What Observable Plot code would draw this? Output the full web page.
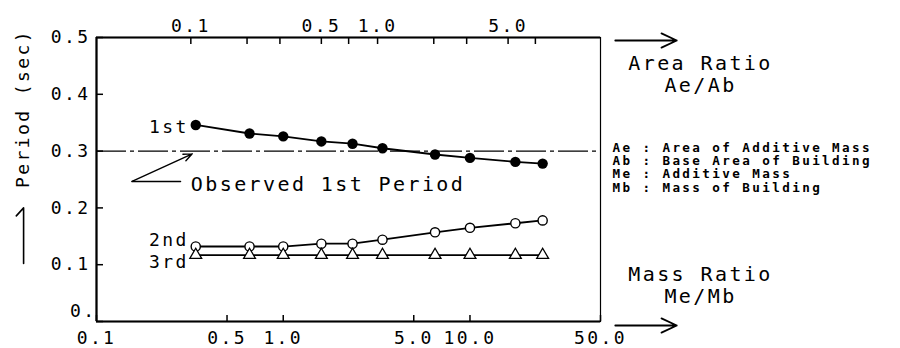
<!DOCTYPE html>
<html><head><meta charset="utf-8">
<script src="https://cdn.jsdelivr.net/npm/d3@7"></script>
<script src="https://cdn.jsdelivr.net/npm/@observablehq/plot@0.6"></script>
<style>
body{margin:0;background:#fff;}
#chart svg text{letter-spacing:2.4px;}
</style>
</head><body><div id="chart"></div>
<script>
// ---- data ----
const massRatio = [0.34, 0.66, 1.0, 1.6, 2.35, 3.4, 6.5, 10.0, 17.5, 24.5];
const period1st = [0.346, 0.331, 0.326, 0.317, 0.313, 0.305, 0.294, 0.288, 0.281, 0.278];
const period2nd = [0.132, 0.132, 0.132, 0.137, 0.137, 0.144, 0.157, 0.165, 0.173, 0.178];
const period3rd = [0.117, 0.117, 0.117, 0.117, 0.117, 0.117, 0.117, 0.117, 0.117, 0.117];
const seriesNames = ["1st", "2nd", "3rd"];
const observed1st = 0.3;

const xDomain = [0.1, 50];
const yDomain = [0, 0.5];
const bottomTicks = [0.1, 0.5, 1, 5, 10, 50];
const bottomLabels = ["0.1", "0.5", "1.0", "5.0", "10.0", "50.0"];
const areaTicks = [0.1, 0.2, 0.3, 0.5, 0.7, 1, 2, 3, 5, 7];
const areaLabelTicks = [0.1, 0.5, 1, 5];
const areaLabels = ["0.1", "0.5", "1.0", "5.0"];
const massPerArea = 3.2;
const yTicks = [0, 0.1, 0.2, 0.3, 0.4, 0.5];
const yLabels = ["0.", "0.1", "0.2", "0.3", "0.4", "0.5"];

const legendLines = ["Ae : Area of Additive Mass", "Ab : Base Area of Building", "Me : Additive Mass", "Mb : Mass of Building"];
const yTitle = "Period (sec)";
const areaTitle = ["Area Ratio", "Ae/Ab"];
const massTitle = ["Mass Ratio", "Me/Mb"];
const observedText = "Observed 1st Period";

// annotation anchors (data units)
const observedTextPos = {x: 0.32, y: 0.241};
const observedPointer = [{x: 0.282, y: 0.2465}, {x: 0.155, y: 0.2465}];
const observedArrow = {x1: 0.155, y1: 0.2465, x2: 0.3256, y2: 0.2952};
const ratioArrows = [{x1: 60, x2: 128, y: 0.4947}, {x1: 60, x2: 128, y: -0.007}];
const yTitleArrow = [{x: 0.0407, y: 0.102}, {x: 0.0407, y: 0.2}, {x: 0.0372, y: 0.186}];

// ---- build tables ----
const allSeries = [period1st, period2nd, period3rd];
const rows = allSeries.map((vals, s) => vals.map((v, i) => ({series: seriesNames[s], mass: massRatio[i], period: v})));
const firstPts = rows.map(r => r[0]);

const topTickMass = areaTicks.map(a => a * massPerArea);
const topLabelRows = areaLabelTicks.map((a, i) => ({mass: a * massPerArea, label: areaLabels[i]}));
const bottomRows = bottomTicks.map((t, i) => ({mass: t, label: bottomLabels[i]}));
const yRows = yTicks.map((t, i) => ({period: t, label: yLabels[i]}));

const font = "'DejaVu Sans Mono', monospace";

const chart = Plot.plot({
  width: 900, height: 348,
  marginLeft: 96, marginRight: 300, marginTop: 37, marginBottom: 27,
  x: {type: "log", domain: xDomain},
  y: {domain: yDomain},
  style: {fontFamily: font, fontSize: "18px", color: "#000", background: "#fff", overflow: "visible"},
  marks: [
    // axes: inward ticks
    Plot.axisX(bottomTicks, {anchor: "bottom", tickSize: -6, tickFormat: () => "", label: null, strokeWidth: 1.5}),
    Plot.axisX(topTickMass, {anchor: "top", tickSize: -6, tickFormat: () => "", label: null, strokeWidth: 1.5}),
    Plot.axisY(yTicks, {anchor: "left", tickSize: -7, tickFormat: () => "", label: null, strokeWidth: 1.5}),
    // tick labels
    Plot.text(bottomRows, {x: "mass", text: "label", frameAnchor: "bottom", lineAnchor: "top", textAnchor: "middle", dy: 10, fontSize: 18}),
    Plot.text(topLabelRows, {x: "mass", text: "label", frameAnchor: "top", lineAnchor: "bottom", textAnchor: "middle", dy: -6, fontSize: 18}),
    Plot.text(yRows.slice(1), {y: "period", text: "label", frameAnchor: "left", textAnchor: "end", lineAnchor: "middle", dx: -6, fontSize: 18}),
    Plot.text(yRows.slice(0, 1), {y: "period", text: "label", frameAnchor: "left", textAnchor: "end", lineAnchor: "middle", dx: 0, dy: -10, fontSize: 18}),
    // frame
    Plot.frame({stroke: "#000", strokeWidth: 1.2}),
    Plot.ruleX(xDomain.slice(0, 1), {stroke: "#000", strokeWidth: 2.2}),
    Plot.ruleY(yDomain, {stroke: "#000", strokeWidth: 2}),
    // observed line
    Plot.ruleY([observed1st], {stroke: "#000", strokeWidth: 1.2, strokeDasharray: "30,4,4,4"}),
    // series lines
    ...rows.map(r => Plot.line(r, {x: "mass", y: "period", stroke: "#000", strokeWidth: 1.8})),
    Plot.dot(rows[0], {x: "mass", y: "period", r: 5.2, fill: "#000"}),
    Plot.dot(rows[1], {x: "mass", y: "period", r: 4.6, fill: "#fff", stroke: "#000", strokeWidth: 1.4}),
    Plot.dot(rows[2], {x: "mass", y: "period", symbol: "triangle", r: 4.4, fill: "#fff", stroke: "#000", strokeWidth: 1.3}),
    // series labels
    Plot.text(firstPts.slice(0, 1), {x: "mass", y: "period", text: "series", textAnchor: "end", dx: -7, dy: 2, fontSize: 18}),
    Plot.text(firstPts.slice(1, 2), {x: "mass", y: "period", text: "series", textAnchor: "end", dx: -7, dy: -6, fontSize: 18}),
    Plot.text(firstPts.slice(2, 3), {x: "mass", y: "period", text: "series", textAnchor: "end", dx: -7, dy: 7, fontSize: 18}),
    // observed annotation
    Plot.text([observedTextPos], {x: "x", y: "y", text: () => observedText, textAnchor: "start", fontSize: 20}),
    Plot.line(observedPointer, {x: "x", y: "y", stroke: "#000", strokeWidth: 1.4}),
    Plot.arrow([observedArrow], {x1: "x1", y1: "y1", x2: "x2", y2: "y2", stroke: "#000", strokeWidth: 1.4, headLength: 10, headAngle: 45}),
    // right-side axis titles and arrows
    Plot.arrow(ratioArrows, {x1: "x1", x2: "x2", y1: "y", y2: "y", stroke: "#000", strokeWidth: 1.8, headLength: 14, headAngle: 50}),
    Plot.text([areaTitle.join("\n")], {frameAnchor: "top-right", dx: 100, dy: 36, textAnchor: "middle", lineAnchor: "middle", lineHeight: 1.1, fontSize: 20}),
    Plot.text([massTitle.join("\n")], {frameAnchor: "bottom-right", dx: 100, dy: -37, textAnchor: "middle", lineAnchor: "middle", lineHeight: 1.1, fontSize: 20}),
    Plot.text([legendLines.join("\n")], {frameAnchor: "top-right", dx: 12, dy: 130, textAnchor: "start", lineAnchor: "middle", lineHeight: 1.06, fontSize: 12.6, fontWeight: "bold"}),
    // y title
    Plot.text([yTitle], {frameAnchor: "top-left", dx: -73, dy: 71, rotate: -90, textAnchor: "middle", lineAnchor: "middle", fontSize: 18}),
    Plot.line(yTitleArrow, {x: "x", y: "y", stroke: "#000", strokeWidth: 1.6})
  ]
});
document.getElementById("chart").appendChild(chart);
</script>
</body></html>
